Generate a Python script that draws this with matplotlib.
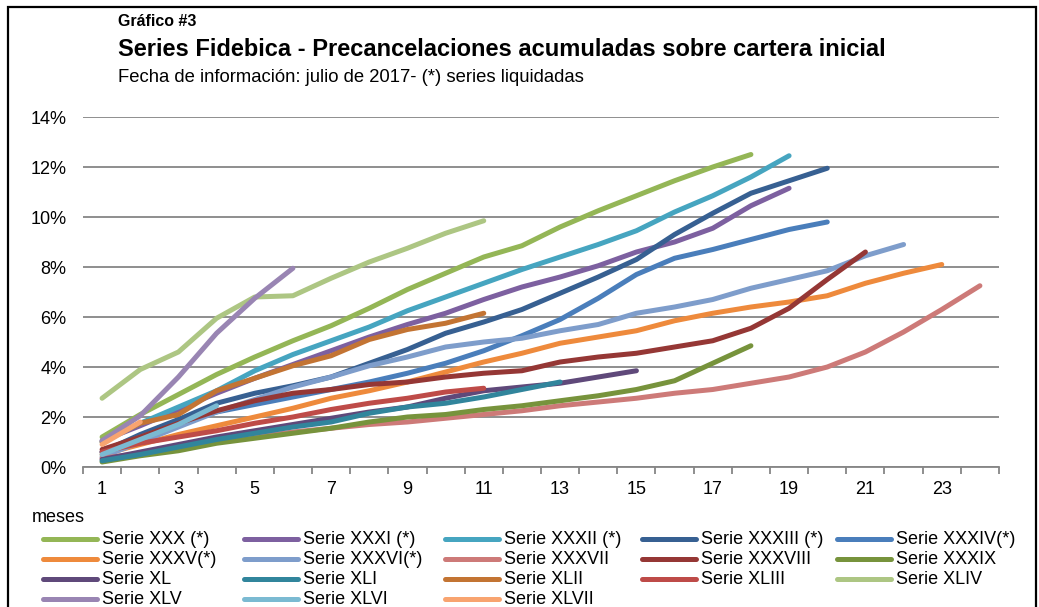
import numpy as np
import matplotlib
matplotlib.use("Agg")
import matplotlib.pyplot as plt
from matplotlib.lines import Line2D
from matplotlib.patches import Rectangle

plt.rcParams['font.family'] = ['Liberation Sans', 'DejaVu Sans']

# months since issue (category axis)
months = list(range(1, 25))
tick_labels = [str(m) for m in range(1, 24, 2)]

# accumulated prepayments over initial portfolio (%)
serie_xxx = [1.2, 2.1, 2.9, 3.7, 4.4, 5.05, 5.65, 6.35, 7.1, 7.75, 8.4, 8.85, 9.6, 10.25, 10.85, 11.45, 12.0, 12.5]
serie_xxxi = [1.05, 1.65, 2.3, 2.95, 3.55, 4.1, 4.65, 5.2, 5.7, 6.15, 6.7, 7.2, 7.6, 8.05, 8.6, 9.0, 9.55, 10.45, 11.15]
serie_xxxii = [1.0, 1.75, 2.4, 3.05, 3.85, 4.5, 5.05, 5.6, 6.25, 6.8, 7.35, 7.9, 8.4, 8.9, 9.45, 10.2, 10.85, 11.6, 12.45]
serie_xxxiii = [0.6, 1.3, 1.9, 2.55, 2.95, 3.25, 3.6, 4.15, 4.7, 5.35, 5.8, 6.3, 6.95, 7.6, 8.3, 9.3, 10.15, 10.95, 11.45, 11.95]
serie_xxxiv = [0.6, 1.2, 1.7, 2.2, 2.5, 2.8, 3.1, 3.4, 3.75, 4.15, 4.65, 5.25, 5.9, 6.75, 7.7, 8.35, 8.7, 9.1, 9.5, 9.8]
serie_xxxv = [0.5, 0.9, 1.3, 1.65, 2.0, 2.35, 2.75, 3.05, 3.4, 3.8, 4.2, 4.55, 4.95, 5.2, 5.45, 5.85, 6.15, 6.4, 6.6, 6.85, 7.35, 7.75, 8.1]
serie_xxxvi = [0.4, 1.0, 1.6, 2.2, 2.7, 3.2, 3.6, 4.05, 4.4, 4.8, 5.0, 5.15, 5.45, 5.7, 6.15, 6.4, 6.7, 7.15, 7.5, 7.85, 8.45, 8.9]
serie_xxxvii = [0.35, 0.55, 0.8, 1.0, 1.2, 1.4, 1.55, 1.7, 1.8, 1.95, 2.1, 2.25, 2.45, 2.6, 2.75, 2.95, 3.1, 3.35, 3.6, 4.0, 4.6, 5.4, 6.3, 7.25]
serie_xxxviii = [0.7, 1.2, 1.75, 2.25, 2.65, 2.95, 3.1, 3.3, 3.4, 3.6, 3.75, 3.85, 4.2, 4.4, 4.55, 4.8, 5.05, 5.55, 6.35, 7.5, 8.6]
serie_xxxix = [0.2, 0.45, 0.65, 0.95, 1.15, 1.35, 1.55, 1.8, 2.0, 2.1, 2.3, 2.45, 2.65, 2.85, 3.1, 3.45, 4.15, 4.85]
serie_xl = [0.3, 0.6, 0.9, 1.2, 1.45, 1.7, 1.95, 2.2, 2.4, 2.75, 3.05, 3.2, 3.35, 3.6, 3.85]
serie_xli = [0.25, 0.5, 0.8, 1.1, 1.35, 1.6, 1.8, 2.15, 2.4, 2.55, 2.8, 3.1, 3.4]
serie_xlii = [1.0, 1.75, 2.1, 3.05, 3.55, 4.05, 4.45, 5.1, 5.5, 5.75, 6.15]
serie_xliii = [0.6, 0.95, 1.2, 1.45, 1.75, 2.0, 2.3, 2.55, 2.75, 3.0, 3.15]
serie_xliv = [2.75, 3.9, 4.6, 5.95, 6.8, 6.85, 7.55, 8.2, 8.75, 9.35, 9.85]
serie_xlv = [1.05, 2.05, 3.6, 5.35, 6.75, 7.95]
serie_xlvi = [0.5, 1.1, 1.7, 2.45]
serie_xlvii = [0.9, 1.8]

names = ['Serie XXX (*)', 'Serie XXXI (*)', 'Serie XXXII (*)', 'Serie XXXIII (*)', 'Serie XXXIV(*)',
         'Serie XXXV(*)', 'Serie XXXVI(*)', 'Serie XXXVII', 'Serie XXXVIII', 'Serie XXXIX',
         'Serie XL', 'Serie XLI', 'Serie XLII', 'Serie XLIII', 'Serie XLIV',
         'Serie XLV', 'Serie XLVI', 'Serie XLVII']
series = [serie_xxx, serie_xxxi, serie_xxxii, serie_xxxiii, serie_xxxiv,
          serie_xxxv, serie_xxxvi, serie_xxxvii, serie_xxxviii, serie_xxxix,
          serie_xl, serie_xli, serie_xlii, serie_xliii, serie_xliv,
          serie_xlv, serie_xlvi, serie_xlvii]
colors = ['#94B656', '#7D60A0', '#46A5C0', '#376092', '#4A7EBB',
          '#EE8A3C', '#7E9DCB', '#CD7A78', '#953735', '#77933C',
          '#5F497A', '#31859C', '#C37433', '#BE4B48', '#ADC683',
          '#9985B3', '#7BBAD2', '#F8A470']

fig = plt.figure(figsize=(10.39, 6.07), dpi=100)
ax = fig.add_axes([83 / 1039, 1 - 467 / 607, (999 - 83) / 1039, (467 - 117) / 607])

grid_color = '#868686'
for vals, col in zip(series, colors):
    ax.plot(months[:len(vals)], vals, color=col, lw=3.6,
            solid_capstyle='round', solid_joinstyle='round', zorder=3)

ax.set_xlim(0.5, 24.5)
ax.set_ylim(0, 14)
ax.set_yticks(np.arange(0, 15, 2))
ax.set_yticklabels([f'{v}%' for v in range(0, 15, 2)])
ax.yaxis.grid(True, color=grid_color, lw=1.3)
ax.set_axisbelow(True)
ax.set_xticks(range(1, 24, 2))
ax.set_xticklabels(tick_labels)
ax.set_xticks(np.arange(0.5, 25, 1), minor=True)
ax.tick_params(axis='x', which='major', length=0, pad=10, labelsize=13)
ax.tick_params(axis='x', which='minor', length=5, width=1.3, color=grid_color, direction='out')
ax.tick_params(axis='y', length=0, pad=12, labelsize=13)
for side in ['left', 'right', 'top']:
    ax.spines[side].set_visible(False)
ax.spines['bottom'].set_color(grid_color)
ax.spines['bottom'].set_linewidth(1.3)

# titles
fig.text(118 / 1039, 1 - 21 / 607, 'Gráfico #3', fontsize=11.5, fontweight='bold', va='center')
fig.text(118 / 1039, 1 - 49 / 607, 'Series Fidebica - Precancelaciones acumuladas sobre cartera inicial',
         fontsize=17, fontweight='bold', va='center')
fig.text(118 / 1039, 1 - 77 / 607, 'Fecha de información: julio de 2017- (*) series liquidadas',
         fontsize=13.3, va='center')
fig.text(32 / 1039, 1 - 518 / 607, 'meses', fontsize=13, va='center')

# legend, laid out row by row like the original
col_x = [43, 244, 445, 642, 837]
row_y = [539, 559, 579, 599]
for i, (name, col) in enumerate(zip(names, colors)):
    x0 = col_x[i % 5]
    y0 = row_y[i // 5]
    fig.add_artist(Line2D([x0 / 1039, (x0 + 54) / 1039], [1 - y0 / 607, 1 - y0 / 607],
                          color=col, lw=3.6, solid_capstyle='round'))
    fig.text((x0 + 59) / 1039, 1 - y0 / 607, name, fontsize=13, va='center')

# outer chart border
fig.add_artist(Rectangle((8 / 1039, -0.05), (1036 - 8) / 1039, 1.05 - 7 / 607,
                         transform=fig.transFigure, fill=False, ec='black', lw=1.6))

fig.savefig('out.png', dpi=100)
